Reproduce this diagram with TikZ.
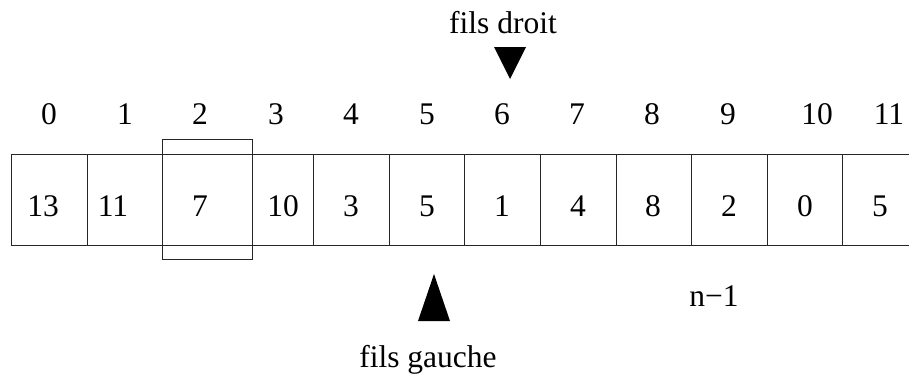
\documentclass[tikz,border=0pt]{standalone}
\usepackage{fontspec}
\setmainfont{Liberation Serif}
\begin{document}
\begin{tikzpicture}[x=1pt,y=-1pt,
  grid/.style={line width=1pt, draw=black!85},
  lbl/.style={font=\fontsize{31.5}{36}\selectfont, anchor=base, inner sep=0pt},
  pointer/.style={fill=black, draw=none}]
\useasboundingbox (0,0) rectangle (909,373);

% array strip (open on the right)
\draw[grid] (909,154) -- (11,154) -- (11,245) -- (909,245);
\foreach \xx in {87,162,252,313,389,464,540,616,691,767,842}
  \draw[grid] (\xx,154) -- (\xx,245);

% highlighted cell
\draw[grid] (162,139) rectangle (252,259);

% indices
\foreach \i/\xx in {0/49,1/125,2/200,3/276,4/351,5/427,6/502,7/577,8/652,9/728,10/817,11/889}
  \node[lbl] (idx\i) at (\xx,124) {\i};

% values
\foreach \i/\xx/\v in {0/43/13,1/113/11,2/200/7,3/283/10,4/351/3,5/427/5,6/502/1,7/578/4,8/653/8,9/729/2,10/805/0,11/880/5}
  \node[lbl] (val\i) at (\xx,216) {\v};

% pointers
\node[lbl] (droit) at (503,33) {fils droit};
\fill[pointer] (494,47) -- (526,47) -- (510,79) -- cycle;
\fill[pointer] (434,274) -- (418,321) -- (450,321) -- cycle;
\node[lbl] (gauche) at (428,367) {fils gauche};
\node[lbl] (last) at (714,306) {n\symbol{"2212}1};
\end{tikzpicture}
\end{document}
